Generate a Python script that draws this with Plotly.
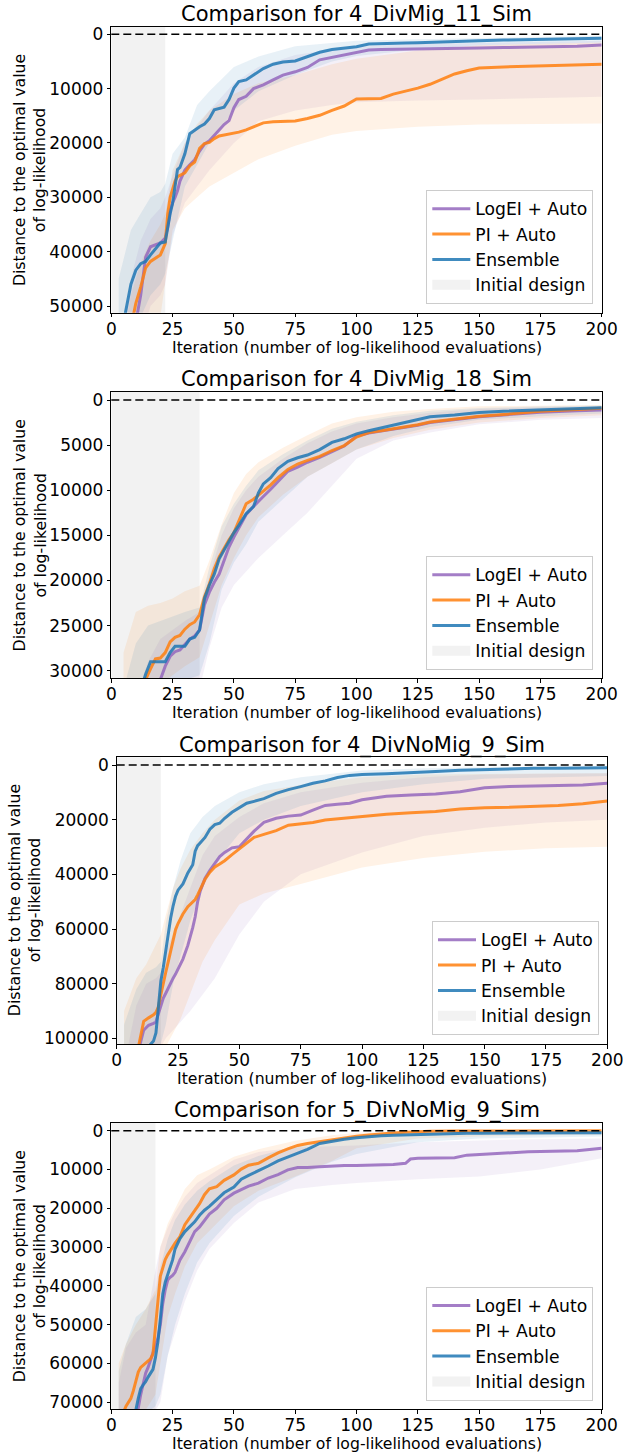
import plotly.graph_objects as go

# ---------------- data ----------------
TITLES = ["Comparison for 4_DivMig_11_Sim", "Comparison for 4_DivMig_18_Sim",
          "Comparison for 4_DivNoMig_9_Sim", "Comparison for 5_DivNoMig_9_Sim"]
SERIES = ["LogEI + Auto", "PI + Auto", "Ensemble"]
INIT_DESIGN = [22, 36, 18, 18]
X_TICKS = [0, 25, 50, 75, 100, 125, 150, 175, 200]
Y_TICKS_1 = [0, 10000, 20000, 30000, 40000, 50000]
Y_TICKS_2 = [0, 5000, 10000, 15000, 20000, 25000, 30000]
Y_TICKS_3 = [0, 20000, 40000, 60000, 80000, 100000]
Y_TICKS_4 = [0, 10000, 20000, 30000, 40000, 50000, 60000, 70000]

# ---- panel 1: 4_DivMig_11_Sim ----
P1_X = [1, 5, 8, 10, 12, 14, 16, 18, 20, 22, 23, 24, 25, 26, 27, 28, 30, 32, 34, 36, 38, 40, 42, 44, 46, 48,
        50, 52, 55, 58, 62, 66, 70, 75, 80, 85, 90, 95, 100, 105, 110, 115, 120, 125, 130, 135, 140, 145,
        150, 160, 170, 180, 190, 200]
P1_LOGEI = [80000, 62000, 56000, 53000, 48000, 41000, 39100, 38800, 38400, 37500, 35500, 32500, 31000, 30000,
            28800, 27000, 25000, 24000, 23100, 21500, 20200, 19600, 18600, 17600, 16600, 15900, 13500, 12000,
            11400, 10000, 9300, 8400, 7500, 6900, 6100, 4700, 4250, 3800, 3400, 2900, 2800, 2750, 2700, 2650,
            2600, 2580, 2560, 2520, 2500, 2450, 2400, 2300, 2200, 1970]
P1_PI = [80000, 62000, 54000, 49500, 46500, 43000, 41800, 41200, 40600, 38500, 33000, 30000, 28500, 27000,
         26200, 26000, 25500, 24200, 23500, 21000, 20100, 19900, 19200, 18700, 18550, 18400, 18250, 18000,
         17600, 17100, 16300, 16100, 16050, 15950, 15500, 14900, 14000, 13200, 11900, 11850, 11800, 11000,
         10500, 9900, 9200, 8300, 7300, 6700, 6200, 6000, 5900, 5800, 5650, 5520]
P1_ENS = [70000, 53000, 46000, 43400, 42200, 41800, 40600, 39500, 38400, 38200, 35500, 33000, 31100, 27500,
          24900, 24500, 22000, 18300, 17600, 17000, 16500, 15500, 13900, 13600, 13400, 12000, 9900, 8700,
          8400, 7500, 6300, 5500, 5100, 4900, 4100, 3300, 2800, 2600, 2300, 1800, 1700, 1650, 1600, 1550,
          1450, 1400, 1300, 1250, 1170, 1050, 950, 900, 800, 740]
P1_BX = [3, 8, 12, 16, 20, 22, 25, 30, 35, 40, 50, 60, 75, 90, 100, 125, 150, 175, 200]
P1_LOGEI_LO = [60000, 45000, 38000, 34000, 32000, 30000, 26000, 20000, 17000, 14000, 9000, 6000, 3800, 2800, 2300, 1800, 1600, 1400, 1200]
P1_LOGEI_HI = [80000, 65000, 56000, 50000, 48000, 46000, 37000, 31000, 28000, 25000, 20000, 16000, 14000, 13000, 12500, 12200, 12000, 11800, 11500]
P1_PI_LO = [60000, 48000, 42000, 38000, 35000, 33000, 25000, 20000, 16500, 14000, 11000, 9000, 7500, 5500, 4500, 3000, 2000, 1700, 1500]
P1_PI_HI = [80000, 70000, 60000, 55000, 52000, 45000, 36000, 32000, 30000, 28000, 25500, 23000, 20500, 18500, 17800, 17000, 16600, 16500, 16400]
P1_ENS_LO = [45000, 36000, 33000, 30000, 29000, 27500, 22000, 19000, 13000, 10500, 6000, 4100, 2200, 1600, 1200, 900, 700, 500, 300]
P1_ENS_HI = [70000, 60000, 52000, 48000, 46000, 44000, 38000, 28000, 24000, 20000, 14000, 10500, 7500, 5000, 4000, 2800, 2000, 1700, 1500]

# ---- panel 2: 4_DivMig_18_Sim ----
P2_X = [10, 14, 16, 18, 20, 22, 24, 26, 28, 30, 32, 34, 36, 38, 40, 42, 44, 46, 48, 50, 52, 55, 58, 60, 62,
        65, 68, 72, 76, 80, 85, 90, 95, 100, 105, 110, 115, 120, 125, 130, 140, 150, 160, 175, 190, 200]
P2_LOGEI = [36000, 34000, 33000, 32000, 31000, 29500, 28400, 27900, 27700, 27100, 26500, 26150, 25500, 22700,
            21300, 20200, 19300, 17800, 16300, 15200, 14200, 12700, 11800, 11200, 10700, 9900, 9000, 7900,
            7450, 6900, 6350, 5700, 5100, 4000, 3650, 3450, 3250, 3000, 2800, 2500, 2200, 1850, 1650, 1350,
            1200, 1100]
P2_PI = [33000, 31000, 29800, 28700, 28600, 28000, 26800, 26300, 26100, 25400, 24900, 24600, 23800, 21800,
         20400, 18700, 17400, 16400, 15500, 14700, 13500, 11500, 11000, 10500, 10100, 9400, 8600, 7700, 7100,
         6700, 6250, 5600, 5050, 4100, 3600, 3400, 3200, 2950, 2750, 2450, 2150, 1800, 1600, 1250, 1050, 920]
P2_ENS = [34000, 30400, 29000, 29000, 29000, 29000, 28000, 27300, 27300, 27300, 26500, 26300, 25500, 22000,
          20500, 19300, 17600, 16600, 15700, 14700, 13900, 12600, 11800, 10300, 9300, 8600, 7600, 6800, 6400,
          6100, 5500, 4700, 4300, 3750, 3400, 3100, 2800, 2450, 2200, 1850, 1650, 1380, 1250, 1100, 950, 850]
P2_BX = [5, 10, 15, 20, 25, 30, 36, 40, 45, 50, 55, 60, 70, 80, 90, 100, 115, 130, 150, 175, 200]
P2_LOGEI_LO = [34000, 33000, 29000, 26500, 25500, 24500, 23500, 19500, 15000, 12000, 10000, 8500, 6500, 4800, 3500, 2600, 1900, 1400, 1000, 800, 700]
P2_LOGEI_HI = [34000, 34000, 34000, 34000, 33500, 33000, 32000, 27500, 23000, 20500, 19000, 17500, 15000, 12500, 9500, 6500, 4500, 3600, 2700, 2200, 2000]
P2_PI_LO = [28000, 23500, 22800, 22500, 22000, 21200, 20600, 17800, 13800, 10300, 8200, 6900, 5300, 3900, 2600, 1900, 1300, 1000, 700, 600, 550]
P2_PI_HI = [34000, 33000, 32000, 31500, 30500, 29500, 28500, 25000, 20500, 17500, 15000, 13000, 10500, 8500, 7000, 5500, 4200, 3300, 2500, 2000, 1700]
P2_ENS_LO = [32000, 27000, 25000, 24500, 24000, 23500, 23000, 18500, 14000, 11500, 9500, 7800, 6000, 4500, 3200, 2400, 1700, 1200, 900, 700, 600]
P2_ENS_HI = [34000, 34000, 33000, 32000, 31500, 31000, 30500, 27000, 21000, 18000, 16000, 13500, 11000, 8500, 7000, 5500, 4000, 3000, 2200, 1800, 1500]

# ---- panel 3: 4_DivNoMig_9_Sim ----
P3_X = [5, 9, 11, 13, 15, 16, 17, 18, 19, 20, 21, 22, 23, 24, 25, 27, 29, 30, 31, 32, 33, 34, 36, 38, 40, 42,
        44, 47, 50, 53, 56, 60, 65, 70, 75, 80, 85, 90, 95, 100, 110, 120, 130, 140, 150, 160, 170, 180, 190, 200]
P3_LOGEI = [125000, 104000, 97000, 95200, 94500, 94000, 91000, 88000, 85300, 83500, 81500, 79500, 78000,
            76500, 74500, 71000, 66000, 63000, 59500, 55500, 50000, 46300, 41500, 38500, 36000, 33500, 32000,
            30300, 29900, 27000, 24200, 21000, 19500, 18700, 18300, 16500, 14800, 14400, 14000, 12700, 11400,
            11000, 10600, 9800, 8300, 7900, 7700, 7500, 7300, 6700]
P3_PI = [120000, 102000, 93800, 92500, 91400, 90500, 88500, 84000, 79300, 75800, 72000, 68000, 64000, 60200,
         58000, 54500, 51800, 50800, 50000, 49200, 47500, 45500, 41800, 39200, 37300, 36200, 35000, 32800,
         30600, 28400, 26500, 25400, 24000, 22000, 21500, 21000, 20100, 19700, 19300, 18800, 18000, 17500,
         17000, 16100, 15600, 15500, 15200, 14800, 14200, 13200]
P3_ENS = [130000, 115000, 108000, 103000, 101000, 98000, 88000, 79000, 74000, 68000, 61000, 56000, 51500,
          48000, 45800, 43500, 39500, 38000, 36500, 31500, 29500, 28500, 26500, 23500, 21800, 21300, 19500,
          17300, 15500, 14000, 13300, 12300, 10400, 9000, 7900, 6700, 5800, 4600, 3800, 3500, 3200, 2900,
          2400, 1900, 1600, 1400, 1220, 1150, 1050, 980]
P3_BX = [3, 8, 12, 16, 18, 20, 23, 26, 30, 35, 40, 50, 60, 75, 100, 125, 150, 175, 200]
P3_LOGEI_LO = [110000, 88000, 80000, 78000, 76000, 68000, 62000, 55000, 45000, 33000, 26000, 19000, 14000, 10000, 6500, 4500, 3500, 3200, 3000]
P3_LOGEI_HI = [140000, 120000, 110000, 105000, 103000, 100000, 97000, 94000, 90000, 84000, 78000, 62000, 50000, 40000, 32000, 26000, 23000, 21000, 20000]
P3_PI_LO = [90000, 78000, 73000, 66000, 62000, 55000, 45000, 38000, 31000, 25000, 20000, 13000, 9500, 7300, 4500, 3500, 3200, 3100, 3050]
P3_PI_HI = [140000, 125000, 115000, 110000, 106000, 103000, 98000, 93000, 84000, 72000, 64000, 51000, 47000, 43500, 37500, 34000, 31700, 30500, 29900]
P3_ENS_LO = [95000, 82000, 76000, 74000, 72000, 58000, 45000, 35000, 25000, 19000, 15000, 10000, 7000, 4500, 2000, 1200, 800, 600, 500]
P3_ENS_HI = [130000, 115000, 108000, 104000, 102000, 95000, 80000, 70000, 57000, 45000, 36000, 25000, 20000, 15000, 10000, 7000, 5000, 4500, 4000]

# ---- panel 4: 5_DivNoMig_9_Sim ----
P4_X = [2, 4, 6, 8, 9, 10, 11, 12, 13, 14, 15, 16, 17, 18, 19, 20, 21, 22, 23, 24, 25, 26, 28, 30, 32, 34, 36,
        38, 40, 43, 46, 50, 53, 56, 60, 64, 68, 72, 76, 80, 85, 90, 95, 100, 105, 110, 115, 120, 122, 125,
        130, 140, 145, 150, 160, 170, 180, 190, 200]
P4_LOGEI = [100000, 88000, 82000, 76000, 74000, 73000, 71500, 68000, 65000, 62500, 61000, 59000, 57500, 55500,
            53500, 50000, 44500, 41000, 38500, 37800, 37300, 36500, 33300, 31200, 28500, 26000, 24800, 23000,
            21500, 20000, 17800, 16100, 15300, 14300, 13500, 12200, 11300, 10100, 9500, 9500, 9300, 9100,
            9000, 8950, 8900, 8850, 8700, 8400, 7300, 7100, 7050, 6950, 6300, 6100, 5800, 5450, 5300, 5150, 4540]
P4_PI = [85000, 74000, 71000, 69000, 67000, 64500, 62200, 61000, 60500, 60000, 59500, 58800, 57500, 50000,
         44000, 37500, 35000, 33200, 32000, 30800, 30000, 29000, 27300, 24200, 22400, 20700, 18800, 16500,
         15000, 14400, 12800, 11400, 9900, 8900, 8400, 7000, 5700, 4700, 3800, 3300, 2800, 2300, 1800, 1400,
         1100, 800, 600, 400, 350, 300, 150, 100, 80, 60, 50, 40, 30, 20, 10]
P4_ENS = [95000, 85000, 80000, 76000, 74000, 72000, 69000, 66500, 65500, 64700, 63500, 62500, 61500, 58500,
          54500, 48500, 42000, 39000, 37000, 35000, 33300, 30500, 27800, 26000, 24800, 23500, 21800, 20500,
          19500, 17800, 16000, 14500, 12500, 11500, 10400, 9100, 7800, 6800, 5800, 4800, 3300, 2700, 2200,
          1800, 1500, 1300, 1150, 1050, 1000, 950, 850, 750, 680, 650, 600, 580, 550, 530, 520]
P4_BX = [3, 6, 10, 14, 18, 20, 23, 26, 30, 35, 40, 50, 60, 75, 90, 100, 125, 150, 175, 200]
P4_LOGEI_LO = [65000, 56000, 52000, 50000, 36000, 30000, 25000, 21000, 17000, 13500, 11500, 7500, 5500, 4300, 4000, 3800, 3000, 2500, 2200, 2000]
P4_LOGEI_HI = [90000, 85000, 80000, 76000, 72000, 70000, 58000, 52000, 44000, 36000, 30500, 23800, 18500, 15000, 14000, 13500, 12500, 11800, 10000, 7100]
P4_PI_LO = [60000, 55000, 50000, 46000, 41000, 30000, 24000, 20000, 15000, 11500, 10000, 6700, 4800, 2600, 1200, 600, 100, 0, 0, 0]
P4_PI_HI = [85000, 80000, 75000, 72000, 68000, 60000, 48000, 42000, 35000, 29000, 26000, 19500, 15500, 11800, 7800, 4500, 2000, 1500, 1200, 1100]
P4_ENS_LO = [62000, 55000, 48000, 46000, 42000, 35000, 28000, 23000, 19000, 15500, 13000, 9000, 6500, 4000, 2200, 1500, 700, 300, 150, 100]
P4_ENS_HI = [85000, 80000, 76000, 73000, 71000, 68000, 58000, 50000, 42000, 34000, 29000, 22000, 17000, 12000, 8000, 6000, 3000, 2000, 1700, 1500]

# ---------------- layout geometry (pixels) ----------------
W, H = 623, 1456
FONT = "DejaVu Sans"
TICK_SIZE = 17
# plot boxes: left, right, top, bottom (px); y ranges (bottom value, top value)
BOXES = [(111.3, 601.7, 26.7, 312.7), (111.3, 601.7, 391.7, 678.3),
         (116.7, 607.3, 757.3, 1044.0), (111.3, 601.7, 1122.7, 1409.0)]
YRANGES = [(51233, -1399), (30847, -920), (102067, -2817), (71727, -2062)]
LEGEND_RB = [(593.3, 304.0), (593.3, 670.0), (599.0, 1035.0), (593.3, 1400.7)]
YTITLE_X = [29.4, 29.4, 24.5, 29.4]

COLORS = {"LogEI + Auto": (148, 103, 189), "PI + Auto": (255, 127, 14), "Ensemble": (31, 119, 180)}

panels = [
    (P1_X, [P1_LOGEI, P1_PI, P1_ENS], P1_BX, [(P1_LOGEI_LO, P1_LOGEI_HI), (P1_PI_LO, P1_PI_HI), (P1_ENS_LO, P1_ENS_HI)], Y_TICKS_1),
    (P2_X, [P2_LOGEI, P2_PI, P2_ENS], P2_BX, [(P2_LOGEI_LO, P2_LOGEI_HI), (P2_PI_LO, P2_PI_HI), (P2_ENS_LO, P2_ENS_HI)], Y_TICKS_2),
    (P3_X, [P3_LOGEI, P3_PI, P3_ENS], P3_BX, [(P3_LOGEI_LO, P3_LOGEI_HI), (P3_PI_LO, P3_PI_HI), (P3_ENS_LO, P3_ENS_HI)], Y_TICKS_3),
    (P4_X, [P4_LOGEI, P4_PI, P4_ENS], P4_BX, [(P4_LOGEI_LO, P4_LOGEI_HI), (P4_PI_LO, P4_PI_HI), (P4_ENS_LO, P4_ENS_HI)], Y_TICKS_4),
]

fig = go.Figure()
layout = dict(width=W, height=H, margin=dict(l=0, r=0, t=0, b=0), autosize=False,
              template="none", paper_bgcolor="white", plot_bgcolor="white",
              font=dict(family=FONT, color="black", size=TICK_SIZE), showlegend=True)
annotations, shapes = [], []

for i, (gx, means, bx, bands, yticks) in enumerate(panels):
    n = "" if i == 0 else str(i + 1)
    xa, ya, leg = "x" + n, "y" + n, "legend" + n
    left, right, top, bottom = BOXES[i]
    xdom = [left / W, right / W]
    ydom = [1 - bottom / H, 1 - top / H]

    # bands
    for name, (lo, hi) in zip(SERIES, bands):
        r, g, b = COLORS[name]
        fig.add_trace(go.Scatter(x=list(bx) + list(bx)[::-1], y=list(lo) + list(hi)[::-1],
                                 fill="toself", fillcolor=f"rgba({r},{g},{b},0.1)", mode="lines",
                                 line=dict(width=0), hoverinfo="skip", showlegend=False,
                                 xaxis=xa, yaxis=ya))
    # mean lines
    for k, (name, m) in enumerate(zip(SERIES, means)):
        r, g, b = COLORS[name]
        fig.add_trace(go.Scatter(x=gx, y=m, mode="lines", name=name,
                                 line=dict(color=f"rgba({r},{g},{b},0.85)", width=3),
                                 legend=leg, legendrank=k + 1, showlegend=True,
                                 xaxis=xa, yaxis=ya))
    # legend entry for the initial-design span (span itself is a layout shape)
    fig.add_trace(go.Scatter(x=[None], y=[None], mode="lines", name="Initial design",
                             line=dict(color="rgba(128,128,128,0.1)", width=13),
                             legend=leg, legendrank=4, showlegend=True, hoverinfo="skip",
                             xaxis=xa, yaxis=ya))

    layout["xaxis" + n] = dict(domain=xdom, range=[0, 200.0001], anchor=ya, tickvals=X_TICKS,
                               ticks="outside", ticklen=3.5, tickwidth=1, tickcolor="black",
                               ticklabelstandoff=-3, ticklabeloverflow="allow",
                               showline=True, mirror=True, linecolor="black", linewidth=1,
                               showgrid=False, zeroline=False, automargin=False,
                               tickfont=dict(family=FONT, size=TICK_SIZE, color="black"))
    layout["yaxis" + n] = dict(domain=ydom, range=list(YRANGES[i]), anchor=xa, tickvals=yticks,
                               tickformat="d", ticks="outside", ticklen=3.5, tickwidth=1, tickcolor="black",
                               showline=True, mirror=True, linecolor="black", linewidth=1,
                               showgrid=False, zeroline=False, automargin=False,
                               tickfont=dict(family=FONT, size=TICK_SIZE, color="black"))
    lx, lb = LEGEND_RB[i]
    layout[leg] = dict(x=lx / W, y=1 - lb / H, xanchor="right", yanchor="bottom",
                       bgcolor="rgba(255,255,255,0.8)", bordercolor="#cccccc", borderwidth=1,
                       font=dict(family=FONT, size=17.2, color="black"), traceorder="normal",
                       itemwidth=38)

    # initial design span
    shapes.append(dict(type="rect", xref=xa, yref=ya + " domain", x0=0, x1=INIT_DESIGN[i], y0=0, y1=1,
                       fillcolor="rgba(128,128,128,0.1)", line=dict(width=0), layer="below"))
    # zero reference
    shapes.append(dict(type="line", xref=xa + " domain", yref=ya, x0=0, x1=1, y0=0, y1=0,
                       line=dict(color="black", width=1.5, dash="8px,4px"), layer="above"))

    cx = (left + right) / 2
    annotations.append(dict(text=TITLES[i], x=cx / W, y=1 - (top - 12) / H, xref="paper", yref="paper",
                            xanchor="center", yanchor="middle", showarrow=False,
                            font=dict(family=FONT, size=21, color="black")))
    annotations.append(dict(text="Iteration (number of log-likelihood evaluations)", x=cx / W,
                            y=1 - (bottom + 34.5) / H, xref="paper", yref="paper",
                            xanchor="center", yanchor="middle", showarrow=False,
                            font=dict(family=FONT, size=15.7, color="black")))
    annotations.append(dict(text="Distance to the optimal value<br>of log-likelihood",
                            x=YTITLE_X[i] / W, y=1 - ((top + bottom) / 2) / H, xref="paper", yref="paper",
                            xanchor="center", yanchor="middle", textangle=-90, showarrow=False,
                            font=dict(family=FONT, size=15.7, color="black")))

layout["annotations"] = annotations
layout["shapes"] = shapes
fig.update_layout(**layout)
fig.write_html("out.html")
